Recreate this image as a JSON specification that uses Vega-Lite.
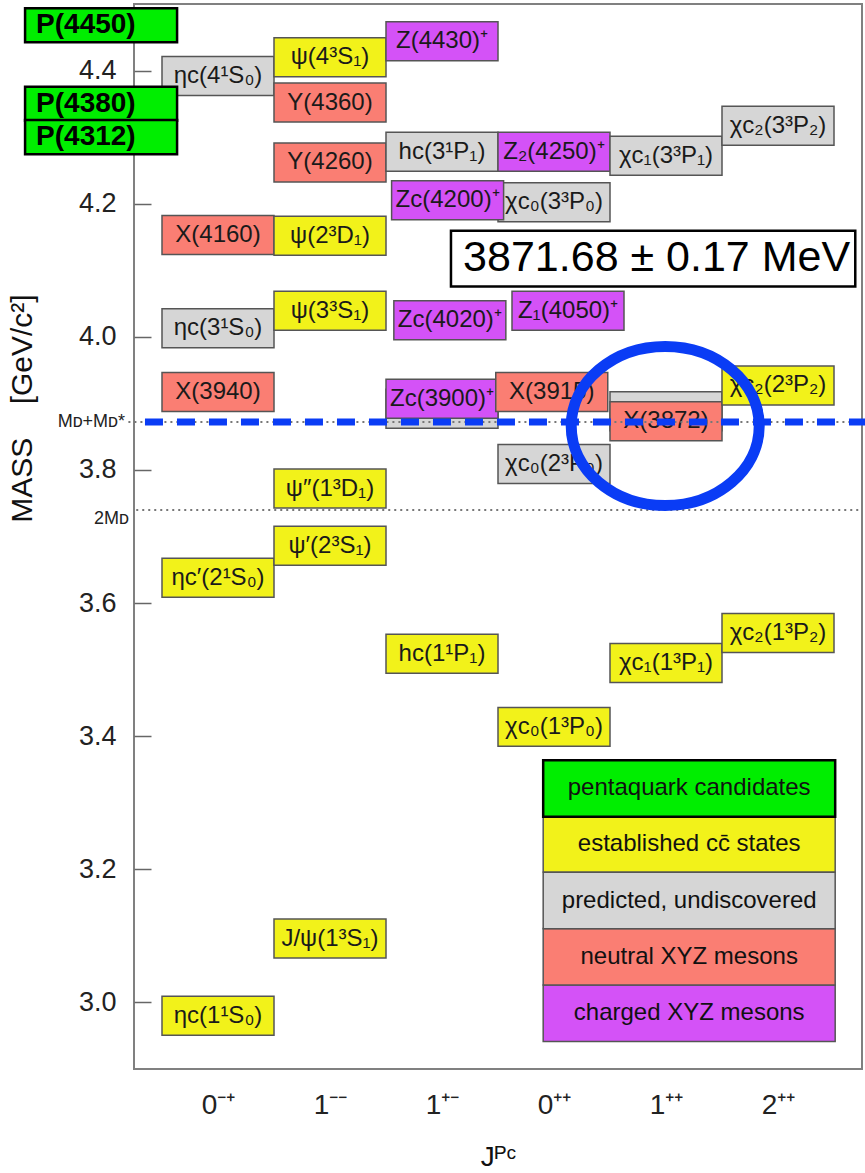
{
  "$schema": "https://vega.github.io/schema/vega-lite/v6.json",
  "width": 728,
  "height": 1065,
  "autosize": {"type": "none"},
  "padding": {"left": 134, "top": 4, "right": 3, "bottom": 104},
  "background": "white",
  "config": {"view": {"stroke": "#808080", "strokeWidth": 2}, "font": "Liberation Sans"},
  "datasets": {
    "states": [
      {"label": "ηc(1¹S₀)", "x": 0, "mass": 2.980, "type": "established"},
      {"label": "ηc′(2¹S₀)", "x": 0, "mass": 3.638, "type": "established"},
      {"label": "X(3940)", "x": 0, "mass": 3.917, "type": "neutral"},
      {"label": "ηc(3¹S₀)", "x": 0, "mass": 4.013, "type": "predicted"},
      {"label": "X(4160)", "x": 0, "mass": 4.153, "type": "neutral"},
      {"label": "ηc(4¹S₀)", "x": 0, "mass": 4.392, "type": "predicted"},
      {"label": "J/ψ(1³S₁)", "x": 1, "mass": 3.096, "type": "established"},
      {"label": "ψ′(2³S₁)", "x": 1, "mass": 3.686, "type": "established"},
      {"label": "ψ″(1³D₁)", "x": 1, "mass": 3.772, "type": "established"},
      {"label": "ψ(3³S₁)", "x": 1, "mass": 4.039, "type": "established"},
      {"label": "ψ(2³D₁)", "x": 1, "mass": 4.152, "type": "established"},
      {"label": "Y(4260)", "x": 1, "mass": 4.262, "type": "neutral"},
      {"label": "Y(4360)", "x": 1, "mass": 4.352, "type": "neutral"},
      {"label": "ψ(4³S₁)", "x": 1, "mass": 4.420, "type": "established"},
      {"label": "hc(1¹P₁)", "x": 2, "mass": 3.524, "type": "established"},
      {"label": "", "x": 2, "mass": 3.892, "type": "predicted"},
      {"label": "Zc(3900)⁺", "x": 2, "mass": 3.907, "type": "charged"},
      {"label": "Zc(4020)⁺", "x": 2.07, "mass": 4.025, "type": "charged"},
      {"label": "hc(3¹P₁)", "x": 2, "mass": 4.278, "type": "predicted"},
      {"label": "Z(4430)⁺", "x": 2, "mass": 4.444, "type": "charged"},
      {"label": "χc₀(1³P₀)", "x": 3, "mass": 3.414, "type": "established"},
      {"label": "χc₀(2³P₀)", "x": 3, "mass": 3.809, "type": "predicted"},
      {"label": "X(3915)", "x": 2.98, "mass": 3.917, "type": "neutral"},
      {"label": "Z₁(4050)⁺", "x": 3.125, "mass": 4.039, "type": "charged"},
      {"label": "χc₀(3³P₀)", "x": 3, "mass": 4.202, "type": "predicted"},
      {"label": "Zc(4200)⁺", "x": 2.05, "mass": 4.205, "type": "charged"},
      {"label": "Z₂(4250)⁺", "x": 3, "mass": 4.278, "type": "charged"},
      {"label": "χc₁(1³P₁)", "x": 4, "mass": 3.510, "type": "established"},
      {"label": "", "x": 4, "mass": 3.888, "type": "predicted"},
      {"label": "X(3872)", "x": 4, "mass": 3.873, "type": "neutral"},
      {"label": "χc₁(3³P₁)", "x": 4, "mass": 4.272, "type": "predicted"},
      {"label": "χc₂(1³P₂)", "x": 5, "mass": 3.555, "type": "established"},
      {"label": "χc₂(2³P₂)", "x": 5, "mass": 3.927, "type": "established"},
      {"label": "χc₂(3³P₂)", "x": 5, "mass": 4.317, "type": "predicted"}
    ],
    "penta": [
      {"label": "P(4450)", "x": -1.044, "mass": 4.468, "type": "pentaquark"},
      {"label": "P(4380)", "x": -1.044, "mass": 4.350, "type": "pentaquark"},
      {"label": "P(4312)", "x": -1.044, "mass": 4.300, "type": "pentaquark"}
    ],
    "legend": [
      {"label": "charged XYZ mesons", "type": "charged", "mass": 2.9837},
      {"label": "neutral XYZ mesons", "type": "neutral", "mass": 3.0688},
      {"label": "predicted, undiscovered", "type": "predicted", "mass": 3.153},
      {"label": "established cc̄ states", "type": "established", "mass": 3.2383},
      {"label": "pentaquark candidates", "type": "pentaquark", "mass": 3.3215}
    ]
  },
  "layer": [
    {
      "data": {"name": "states"},
      "mark": {"type": "point", "shape": "M-1,-0.348H1V0.348H-1Z", "size": 12544, "filled": true, "opacity": 1, "stroke": "#555555", "strokeWidth": 1.5},
      "encoding": {
        "x": {
          "field": "x", "type": "quantitative",
          "scale": {"domain": [-0.75, 5.75], "nice": false, "zero": false},
          "axis": {
            "values": [0, 1, 2, 3, 4, 5],
            "labelExpr": "['0⁻⁺','1⁻⁻','1⁺⁻','0⁺⁺','1⁺⁺','2⁺⁺'][datum.value]",
            "ticks": false, "domain": false, "grid": false,
            "labelFontSize": 28, "labelPadding": 22, "labelColor": "#222222",
            "title": "Jᴾᶜ", "titleFontSize": 28, "titleFontWeight": "normal", "titlePadding": 24, "titleColor": "#111111"
          }
        },
        "y": {
          "field": "mass", "type": "quantitative",
          "scale": {"domain": [2.9, 4.5], "nice": false, "zero": false},
          "axis": {
            "values": [3.0, 3.2, 3.4, 3.6, 3.8, 4.0, 4.2, 4.4],
            "format": ".1f",
            "tickSize": -17, "tickColor": "#666666", "tickWidth": 1.5,
            "domain": false, "grid": false,
            "labelFontSize": 27, "labelColor": "#222222", "labelPadding": 35,
            "title": "MASS\u00a0\u00a0\u00a0\u00a0[GeV/c²]", "titleFontSize": 30, "titleFontWeight": "normal", "titleColor": "#111111",
            "titleAngle": -90, "titleX": -112, "titleY": 404, "titleAlign": "center", "titleBaseline": "middle"
          }
        },
        "color": {
          "field": "type", "type": "nominal",
          "scale": {"domain": ["pentaquark", "established", "predicted", "neutral", "charged"], "range": ["#00ee00", "#f2f21a", "#d6d6d6", "#fa7e73", "#d452f7"]},
          "legend": null
        }
      }
    },
    {
      "data": {"name": "states"},
      "mark": {"type": "text", "fontSize": 24, "color": "#1a1a1a", "baseline": "middle", "align": "center"},
      "encoding": {
        "x": {"field": "x", "type": "quantitative"},
        "y": {"field": "mass", "type": "quantitative"},
        "text": {"field": "label"}
      }
    },
    {
      "data": {"name": "legend"},
      "mark": {"type": "point", "shape": "M-1,-0.1935H1V0.1935H-1Z", "size": 85264, "filled": true, "opacity": 1},
      "encoding": {
        "x": {"datum": 4.207},
        "y": {"field": "mass", "type": "quantitative"},
        "color": {"field": "type", "type": "nominal", "legend": null},
        "stroke": {"condition": {"test": "datum.type === 'pentaquark'", "value": "#000000"}, "value": "#555555"},
        "strokeWidth": {"condition": {"test": "datum.type === 'pentaquark'", "value": 2.5}, "value": 1.5}
      }
    },
    {
      "data": {"name": "legend"},
      "mark": {"type": "text", "fontSize": 24, "color": "#111111", "baseline": "middle", "align": "center"},
      "encoding": {
        "x": {"datum": 4.207},
        "y": {"field": "mass", "type": "quantitative"},
        "text": {"field": "label"}
      }
    },
    {
      "data": {"values": [{}]},
      "mark": {"type": "point", "shape": "M-1,-0.1378H1V0.1378H-1Z", "size": 163459, "filled": true, "opacity": 1, "fill": "white", "stroke": "#000000", "strokeWidth": 2.5},
      "encoding": {"x": {"datum": 3.885}, "y": {"datum": 4.1174}}
    },
    {
      "data": {"values": [{}]},
      "mark": {"type": "text", "text": "3871.68 ± 0.17 MeV", "fontSize": 43, "color": "#000000", "baseline": "middle", "align": "center"},
      "encoding": {"x": {"datum": 3.916}, "y": {"datum": 4.118}}
    },
    {
      "data": {"values": [{}]},
      "mark": {"type": "rule", "stroke": "#777777", "strokeWidth": 2, "strokeDash": [2, 4]},
      "encoding": {"y": {"datum": 3.872}, "x": {"datum": -0.8}, "x2": {"datum": 5.75}}
    },
    {
      "data": {"values": [{}]},
      "mark": {"type": "rule", "stroke": "#777777", "strokeWidth": 2, "strokeDash": [2, 4]},
      "encoding": {"y": {"datum": 3.7398}, "x": {"datum": -0.73}, "x2": {"datum": 5.75}}
    },
    {
      "data": {"values": [{}]},
      "mark": {"type": "rule", "stroke": "#0a3cf5", "strokeWidth": 7, "strokeDash": [18, 14]},
      "encoding": {"y": {"datum": 3.872}, "x": {"datum": -0.652}, "x2": {"datum": 5.78}}
    },
    {
      "data": {"name": "penta"},
      "mark": {"type": "point", "shape": "M-1,-0.224H1V0.224H-1Z", "size": 23104, "filled": true, "opacity": 1, "stroke": "#000000", "strokeWidth": 2.5},
      "encoding": {
        "x": {"field": "x", "type": "quantitative"},
        "y": {"field": "mass", "type": "quantitative"},
        "color": {"field": "type", "type": "nominal", "legend": null}
      }
    },
    {
      "data": {"name": "penta"},
      "mark": {"type": "text", "fontSize": 28, "fontWeight": "bold", "color": "#000000", "baseline": "middle", "align": "left", "dx": -65},
      "encoding": {
        "x": {"field": "x", "type": "quantitative"},
        "y": {"field": "mass", "type": "quantitative"},
        "text": {"field": "label"}
      }
    },
    {
      "data": {"values": [{}]},
      "mark": {"type": "text", "text": "Mᴅ+Mᴅ*", "fontSize": 18, "color": "#222222", "baseline": "middle", "align": "right", "dx": -9},
      "encoding": {"x": {"datum": -0.75}, "y": {"datum": 3.872}}
    },
    {
      "data": {"values": [{}]},
      "mark": {"type": "text", "text": "2Mᴅ", "fontSize": 18, "color": "#222222", "baseline": "middle", "align": "right", "dx": -5, "dy": 9},
      "encoding": {"x": {"datum": -0.75}, "y": {"datum": 3.7398}}
    },
    {
      "data": {"values": [{}]},
      "mark": {"type": "point", "shape": "M1,0C1,0.467,0.552,0.846,0,0.846C-0.552,0.846,-1,0.467,-1,0C-1,-0.467,-0.552,-0.846,0,-0.846C0.552,-0.846,1,-0.467,1,0Z", "size": 35344, "filled": false, "opacity": 1, "stroke": "#0a3cf5", "strokeWidth": 11},
      "encoding": {"x": {"datum": 3.993}, "y": {"datum": 3.866}}
    }
  ]
}
